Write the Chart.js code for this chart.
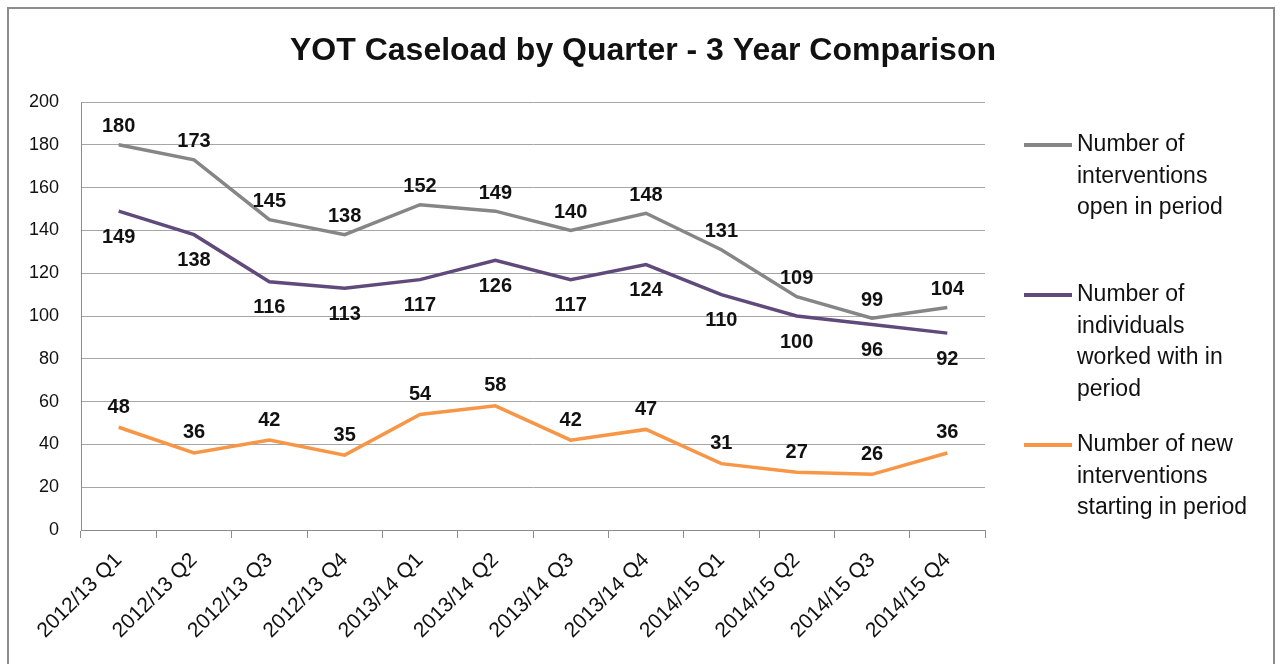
<!DOCTYPE html>
<html>
<head>
<meta charset="utf-8">
<script src="https://cdn.jsdelivr.net/npm/chart.js@4.4.1/dist/chart.umd.min.js"></script>
<style>
  html, body { margin: 0; padding: 0; background: #fff; overflow: hidden; }
  #frame { position: absolute; left: 7px; top: 7px; width: 1264px; height: 700px; border: 2px solid #8c8c8c; }
  canvas { position: absolute; left: 0; top: 0; }
</style>
</head>
<body>
<div id="frame"></div>
<canvas id="chart" width="1282" height="664"></canvas>
<script>
// quarters on x
const quarters = ["2012/13 Q1", "2012/13 Q2", "2012/13 Q3", "2012/13 Q4",
  "2013/14 Q1", "2013/14 Q2", "2013/14 Q3", "2013/14 Q4",
  "2014/15 Q1", "2014/15 Q2", "2014/15 Q3", "2014/15 Q4"];

const openInterventions = [180, 173, 145, 138, 152, 149, 140, 148, 131, 109, 99, 104];
const individuals = [149, 138, 116, 113, 117, 126, 117, 124, 110, 100, 96, 92];
const newInterventions = [48, 36, 42, 35, 54, 58, 42, 47, 31, 27, 26, 36];

const seriesNames = [
  ["Number of", "interventions", "open in period"],
  ["Number of", "individuals", "worked with in", "period"],
  ["Number of new", "interventions", "starting in period"]
];
const yTicks = [0, 20, 40, 60, 80, 100, 120, 140, 160, 180, 200];

const FONT = "'Liberation Sans', Arial, sans-serif";
const colors = ["#868686", "#604a7b", "#f79646"];
const labelOffset = [-18, 26, -20]; // above / below the point

// value labels + legend + title
const extras = {
  id: "extras",
  afterDatasetsDraw(chart) {
    const ctx = chart.ctx;
    ctx.save();
    ctx.font = "bold 20px " + FONT;
    ctx.fillStyle = "#111";
    ctx.textAlign = "center";
    ctx.textBaseline = "middle";
    chart.data.datasets.forEach((ds, i) => {
      chart.getDatasetMeta(i).data.forEach((pt, j) => {
        ctx.fillText(ds.data[j], pt.x, pt.y + labelOffset[i]);
      });
    });

    // title
    ctx.font = "bold 32px " + FONT;
    ctx.fillText("YOT Caseload by Quarter - 3 Year Comparison", 643, 51);

    // legend
    ctx.font = "23px " + FONT;
    ctx.textAlign = "left";
    let y = 145;
    seriesNames.forEach((lines, i) => {
      ctx.strokeStyle = colors[i];
      ctx.lineWidth = 4;
      ctx.beginPath();
      ctx.moveTo(1024, y);
      ctx.lineTo(1072, y);
      ctx.stroke();
      lines.forEach((t, k) => {
        ctx.fillStyle = "#111";
        ctx.fillText(t, 1077, y + k * 31.5);
      });
      y += 150;
    });
    ctx.restore();
  }
};

new Chart(document.getElementById("chart"), {
  type: "line",
  data: {
    labels: quarters,
    datasets: [
      { label: seriesNames[0].join(" "), data: openInterventions, borderColor: colors[0] },
      { label: seriesNames[1].join(" "), data: individuals, borderColor: colors[1] },
      { label: seriesNames[2].join(" "), data: newInterventions, borderColor: colors[2] }
    ].map(d => Object.assign(d, { borderWidth: 3.5, pointRadius: 0, tension: 0, fill: false }))
  },
  options: {
    responsive: false,
    animation: false,
    layout: { padding: { left: 0, right: 297, top: 102, bottom: 0 } },
    plugins: {
      legend: { display: false },
      title: { display: false },
      tooltip: { enabled: false }
    },
    scales: {
      x: {
        offset: true,
        afterFit: s => { s.height = 134; },
        grid: { display: true, drawOnChartArea: false, drawTicks: true, tickLength: 8, offset: true, color: "#8c8c8c" },
        border: { color: "#8c8c8c", width: 1 },
        ticks: { minRotation: 45, maxRotation: 45, color: "#111", font: { family: FONT, size: 21 }, padding: 10 }
      },
      y: {
        min: 0,
        max: 200,
        afterFit: s => { s.width = 81; },
        afterBuildTicks: s => { s.ticks = yTicks.map(v => ({ value: v })); },
        grid: { color: "#a6a6a6", drawTicks: false },
        border: { color: "#8c8c8c", width: 1 },
        ticks: { color: "#111", font: { family: FONT, size: 18 }, padding: 22 }
      }
    }
  },
  plugins: [extras]
});
</script>
</body>
</html>
